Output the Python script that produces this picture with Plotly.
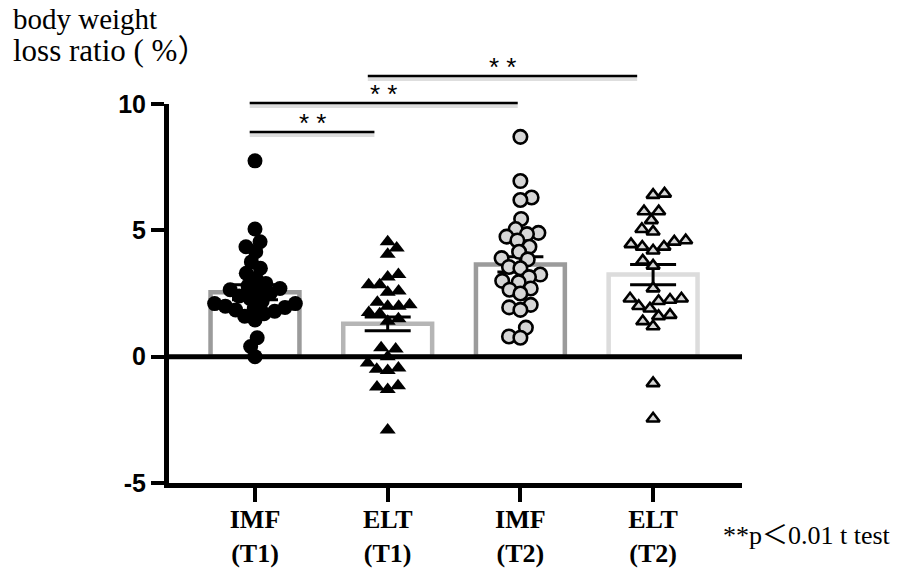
import numpy as np
import plotly.graph_objects as go

# ---------------- data ----------------
categories = ["IMF<br>(T1)", "ELT<br>(T1)", "IMF<br>(T2)", "ELT<br>(T2)"]

imf_t1 = [7.75, 5.05, 4.55, 4.35, 4.15, 3.75, 3.5, 3.3, 3.1, 2.9, 2.8, 2.7, 2.65,
          2.6, 2.5, 2.4, 2.3, 2.2, 2.1, 2.1, 2.0, 1.95, 1.9, 1.85, 1.8, 1.7, 1.6,
          1.45, 0.75, 0.4, 0.0]
elt_t1 = [4.55, 4.3, 4.05, 3.25, 3.15, 2.85, 2.85, 2.6, 2.55, 2.15, 2.05, 2.0, 2.0,
          1.75, 1.7, 1.5, 1.4, 0.35, 0.3, 0.0, -0.25, -0.45, -0.5, -0.55, -1.15,
          -1.2, -1.3, -2.9]
imf_t2 = [8.7, 6.95, 6.3, 6.2, 5.45, 5.05, 4.9, 4.85, 4.75, 4.6, 4.35, 4.15, 3.9,
          3.85, 3.55, 3.5, 3.25, 3.15, 3.0, 2.95, 2.7, 2.65, 2.5, 2.05, 1.95, 1.85,
          1.15, 0.8, 0.75]
elt_t2 = [6.45, 6.4, 5.75, 5.75, 5.4, 5.05, 4.95, 4.6, 4.55, 4.45, 4.35, 4.35, 4.2,
          3.8, 3.6, 2.7, 2.3, 2.3, 2.25, 2.2, 2.0, 1.9, 1.65, 1.6, 1.4, 1.2, -1.05,
          -2.45]

bar_means = [2.55, 1.3, 3.65, 3.25]
bar_sem = [0.3, 0.27, 0.3, 0.4]

y_ticks = [-5, 0, 5, 10]
comparisons = [(0, 1), (0, 2), (1, 3)]
sig_labels = ["* *", "* *", "* *"]
note_text = "**p＜0.01 t test"
ylabel_lines = ["body weight", "loss ratio ( %）"]

# ---------------- layout geometry ----------------
W, H = 901, 570
L, R, T, B = 169, 159, 104, 87
pw, ph = W - L - R, H - T - B
x_range = [-0.648, 3.670]
y_range = [-5, 10]
px_per_x = pw / (x_range[1] - x_range[0])
px_per_y = ph / (y_range[1] - y_range[0])


def paper_x(px):
    return (px - L) / pw


def paper_y(py):
    return (H - B - py) / ph


def swarm(values, sep):
    """Simple beeswarm: returns horizontal offsets (px) for each value."""
    vals = np.asarray(values, dtype=float)
    order = np.argsort(vals, kind="stable")
    placed = []
    offs = np.zeros(len(vals))
    nl = nr = 0
    for idx in order:
        y = vals[idx] * px_per_y
        cands = [0.0]
        for (px, py) in placed:
            dy = y - py
            if abs(dy) < sep:
                dx = np.sqrt(sep ** 2 - dy ** 2)
                cands += [px + dx + 1e-6, px - dx - 1e-6]
        valid = [c for c in cands
                 if all((c - px) ** 2 + (y - py) ** 2 >= sep ** 2 - 1e-3 for px, py in placed)]
        prefer = 1 if nl > nr else -1
        best = min(valid, key=lambda c: (round(abs(c), 2), -prefer * c))
        if best < -0.5:
            nl += 1
        elif best > 0.5:
            nr += 1
        offs[idx] = best
        placed.append((best, y))
    return offs


fig = go.Figure()

# bars (open, gray outline) with SEM error bars
bar_colors = ["#9b9b9b", "#b5b5b5", "#9b9b9b", "#dcdcdc"]
fig.add_trace(go.Bar(
    x=list(range(len(categories))), y=bar_means, width=0.67,
    marker=dict(color="rgba(0,0,0,0)", line=dict(color=bar_colors, width=4.5)),
    error_y=dict(type="data", array=bar_sem, color="black", thickness=3, width=23),
    showlegend=False, hoverinfo="skip",
))

groups = [
    (imf_t1, dict(symbol="circle", size=15, color="black", line=dict(width=0)), 11),
    (elt_t1, dict(symbol="triangle-up", size=14, color="black", line=dict(width=0)), 11),
    (imf_t2, dict(symbol="circle", size=13.5, color="#d6d6d6", line=dict(width=2.6, color="black")), 11.5),
    (elt_t2, dict(symbol="triangle-up", size=11.5, color="#d6d6d6", line=dict(width=2.6, color="black")), 11.5),
]
for k, (vals, mk, sep) in enumerate(groups):
    offs = swarm(vals, sep)
    fig.add_trace(go.Scatter(
        x=k + offs / px_per_x, y=vals, mode="markers", marker=mk,
        showlegend=False, hoverinfo="skip",
    ))

shapes = []
# zero line above traces
shapes.append(dict(type="line", xref="paper", yref="y", x0=0, x1=1, y0=0, y1=0,
                   line=dict(color="black", width=5), layer="above"))

# significance brackets
bracket_ext = [(-0.04, 0.90), (-0.04, 1.98), (0.85, 2.88)]
bracket_py = [132, 103, 76]
annotations = []
for (a, b), (x0, x1), py, lab in zip(comparisons, bracket_ext, bracket_py, sig_labels):
    shapes.append(dict(type="line", xref="x", yref="paper", x0=x0, x1=x1,
                       y0=paper_y(py + 3), y1=paper_y(py + 3),
                       line=dict(color="rgba(0,0,0,0.13)", width=4), layer="above"))
    shapes.append(dict(type="line", xref="x", yref="paper", x0=x0, x1=x1,
                       y0=paper_y(py), y1=paper_y(py),
                       line=dict(color="black", width=2.5), layer="above"))
    annotations.append(dict(x=(x0 + x1) / 2, y=paper_y(py - 9), xref="x", yref="paper",
                            text=lab, showarrow=False, xanchor="center", yanchor="middle",
                            font=dict(family="Liberation Sans", size=26, color="black")))

serif = "Liberation Serif, Noto Sans CJK JP, serif"
annotations.append(dict(x=paper_x(11), y=paper_y(19), xref="paper", yref="paper",
                        text=ylabel_lines[0], showarrow=False, xanchor="left", yanchor="middle",
                        font=dict(family=serif, size=29, color="black")))
annotations.append(dict(x=paper_x(11), y=paper_y(51), xref="paper", yref="paper",
                        text=ylabel_lines[1], showarrow=False, xanchor="left", yanchor="middle",
                        font=dict(family=serif, size=31, color="black")))
annotations.append(dict(x=paper_x(721), y=paper_y(535), xref="paper", yref="paper",
                        text=note_text, showarrow=False, xanchor="left", yanchor="middle",
                        font=dict(family=serif, size=26, color="black")))

fig.update_layout(
    width=W, height=H,
    margin=dict(l=L, r=R, t=T, b=B, pad=0, autoexpand=False),
    paper_bgcolor="white", plot_bgcolor="white",
    barmode="overlay",
    shapes=shapes, annotations=annotations,
    xaxis=dict(range=x_range, tickvals=list(range(len(categories))), ticktext=categories,
               automargin=False,
               showline=True, linewidth=5, linecolor="black", showgrid=False, zeroline=False,
               ticks="outside", ticklen=14, tickwidth=4, tickcolor="black",
               tickfont=dict(family="Liberation Serif", size=26, color="black", weight="bold"),
               ticklabelstandoff=-5),
    yaxis=dict(range=y_range, tickvals=y_ticks, ticktext=[str(v) for v in y_ticks],
               automargin=False,
               showline=True, linewidth=5, linecolor="black", showgrid=False, zeroline=False,
               ticks="outside", ticklen=13, tickwidth=4, tickcolor="black",
               tickfont=dict(family="Liberation Sans", size=25, color="black", weight="bold")),
)

fig.write_html("out.html", config={"displayModeBar": False},
               post_script="document.body.style.margin='0px';document.body.style.overflow='hidden';")
